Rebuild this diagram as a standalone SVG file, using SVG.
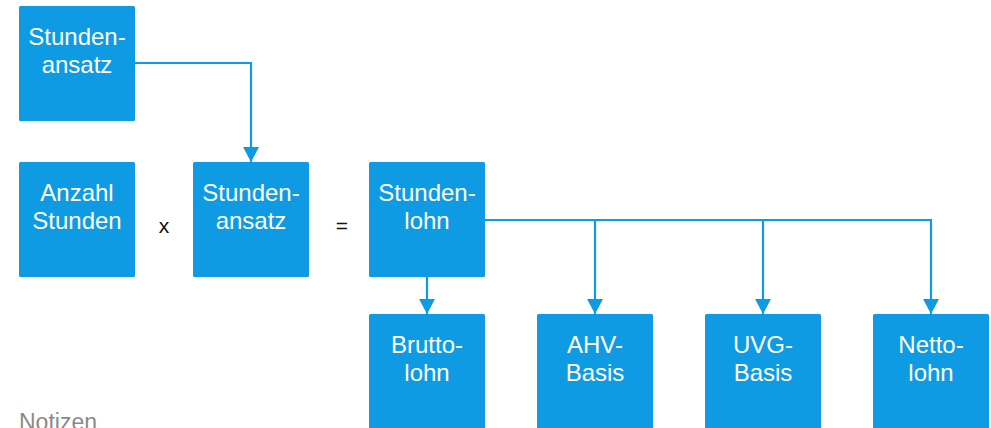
<svg xmlns="http://www.w3.org/2000/svg" width="991" height="428" viewBox="0 0 991 428">
<style>
.box{fill:#0F9AE4;}
.lbl{font-family:"Liberation Sans",Arial,sans-serif;font-size:24px;fill:#ffffff;text-anchor:middle;}
.op{font-family:"Liberation Sans",Arial,sans-serif;font-size:21px;fill:#111111;text-anchor:middle;}
.con{fill:none;stroke:#0F9AE4;stroke-width:2.2;}
.note{font-family:"Liberation Sans",Arial,sans-serif;font-size:23px;fill:#8a8a8a;}
</style>
<defs>
<marker id="arr" markerUnits="userSpaceOnUse" markerWidth="16" markerHeight="16" viewBox="0 0 16 16" refX="15" refY="8" orient="auto">
<path d="M0,0 L15,8 L0,16 Z" fill="#0F9AE4"/>
</marker>
</defs>
<rect width="991" height="428" fill="#ffffff"/>
<g id="connectors">
<path class="con" d="M135,63 H251 V162" marker-end="url(#arr)"/>
<path class="con" d="M427,277 V314" marker-end="url(#arr)"/>
<path class="con" d="M485,220 H931 V314" marker-end="url(#arr)"/>
<path class="con" d="M595,220 V314" marker-end="url(#arr)"/>
<path class="con" d="M763,220 V314" marker-end="url(#arr)"/>
</g>
<g id="stundenansatz-top"><rect class="box" x="19" y="6" width="116" height="115" rx="1.5"/><text class="lbl" x="77" y="45">Stunden-</text><text class="lbl" x="77" y="73">ansatz</text></g>
<g id="anzahl-stunden"><rect class="box" x="19" y="162" width="116" height="115" rx="1.5"/><text class="lbl" x="77" y="201">Anzahl</text><text class="lbl" x="77" y="229">Stunden</text></g>
<g id="op-x"><text class="op" x="164" y="233">x</text></g>
<g id="stundenansatz"><rect class="box" x="193" y="162" width="116" height="115" rx="1.5"/><text class="lbl" x="251" y="201">Stunden-</text><text class="lbl" x="251" y="229">ansatz</text></g>
<g id="op-eq"><text class="op" x="342" y="233">=</text></g>
<g id="stundenlohn"><rect class="box" x="369" y="162" width="116" height="115" rx="1.5"/><text class="lbl" x="427" y="201">Stunden-</text><text class="lbl" x="427" y="229">lohn</text></g>
<g id="bruttolohn"><rect class="box" x="369" y="314" width="116" height="120" rx="1.5"/><text class="lbl" x="427" y="353">Brutto-</text><text class="lbl" x="427" y="381">lohn</text></g>
<g id="ahv-basis"><rect class="box" x="537" y="314" width="116" height="120" rx="1.5"/><text class="lbl" x="595" y="353">AHV-</text><text class="lbl" x="595" y="381">Basis</text></g>
<g id="uvg-basis"><rect class="box" x="705" y="314" width="116" height="120" rx="1.5"/><text class="lbl" x="763" y="353">UVG-</text><text class="lbl" x="763" y="381">Basis</text></g>
<g id="nettolohn"><rect class="box" x="873" y="314" width="116" height="120" rx="1.5"/><text class="lbl" x="931" y="353">Netto-</text><text class="lbl" x="931" y="381">lohn</text></g>
<text class="note" x="19" y="430">Notizen</text>
</svg>
